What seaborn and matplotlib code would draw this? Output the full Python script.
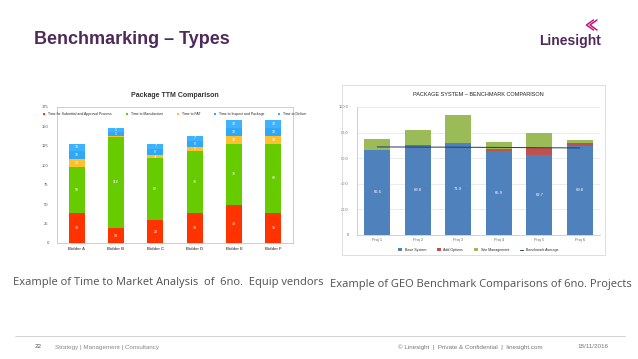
import matplotlib
matplotlib.use("Agg")
import matplotlib.pyplot as plt
import seaborn as sns
import pandas as pd
import numpy as np

# left chart: package time to market per bidder
bidders = ["Bidder A", "Bidder B", "Bidder C", "Bidder D", "Bidder E", "Bidder F"]
submittal = [39, 19, 29, 39, 49, 39]
manufacture = [59, 118, 80, 79, 79, 89]
fat = [10, 1, 4, 5, 10, 10]
inspect = [10, 5, 8, 8, 10, 10]
deliver = [10, 5, 7, 7, 10, 10]
ttm_names = ["Time for Submittal and Approval Process", "Time to Manufacture",
             "Time to FAT", "Time to Inspect and Package", "Time to Deliver"]
ttm_colors = ["#FF3300", "#66CC00", "#FFC02E", "#2FA8F5", "#3DB2FF"]
ttm_ticks = [0, 25, 50, 75, 100, 125, 150, 175]

# right chart: system benchmark per project
projects = ["Proj 1", "Proj 2", "Proj 3", "Proj 4", "Proj 5", "Proj 6"]
base = [66.6, 69.8, 71.9, 65.9, 62.7, 69.8]
options = [0.0, 0.8, 0.3, 1.6, 5.3, 2.4]
mgmt = [8.2, 11.2, 21.4, 5.4, 12.0, 2.3]
benchmark = [68.8, 68.7, 68.6, 68.4, 68.2, 68.0]
geo_names = ["Base System", "Add Options", "Site Management", "Benchmark Average"]
geo_colors = ["#4F81BD", "#C0504D", "#9BBB59", "#1F3864"]
geo_ticks = [0, 20, 40, 60, 80, 100]

sns.set_style("white")
plt.rcParams["font.family"] = ["Liberation Sans", "DejaVu Sans"]

fig = plt.figure(figsize=(6.38, 3.59), dpi=100)

# slide header
fig.text(34 / 638, 1 - 40 / 359, "Benchmarking \u2013 Types", fontsize=13, fontweight="bold",
         color="#4E2A5A", va="center", ha="left")
fig.text(601 / 638, 1 - 41 / 359, "Linesight", fontsize=10, fontweight="bold",
         color="#4E2A5A", va="center", ha="right")
for dx in (0, 3.5):
    fig.add_artist(plt.Line2D([(597 - dx) / 638, (590 - dx) / 638, (597 - dx) / 638],
                              [1 - 20 / 359, 1 - 25 / 359, 1 - 30 / 359],
                              color="#C2187A", lw=1.1, transform=fig.transFigure))

# ---- left chart
ax1 = fig.add_axes([57 / 638, 1 - 243 / 359, 236 / 638, 136 / 359])
ttm = pd.DataFrame({"Bidder": bidders, "sub": submittal, "man": manufacture,
                    "fat": fat, "ins": inspect, "del": deliver})
cols = ["sub", "man", "fat", "ins", "del"]
bottom = np.zeros(len(bidders))
for col, name, color in zip(cols, ttm_names, ttm_colors):
    sns.barplot(data=ttm, x="Bidder", y=col, color=color, bottom=bottom, width=0.4,
                ax=ax1, label=name, saturation=1, linewidth=0)
    for i, v in enumerate(ttm[col]):
        if v >= 4:
            ax1.text(i, bottom[i] + v / 2, f"{v}", color="white", fontsize=2.5,
                     ha="center", va="center")
    bottom = bottom + ttm[col].values
ax1.set_ylim(0, 175)
ax1.set_xlim(-0.5, 5.5)
ax1.set_yticks(ttm_ticks)
ax1.set_yticklabels([f"{t:.0f}" for t in ttm_ticks])
ax1.tick_params(labelsize=3, colors="#555555", length=0, pad=6)
ax1.tick_params(axis="x", pad=3)
for lab in ax1.get_xticklabels():
    lab.set_fontweight("bold")
ax1.set_xlabel("")
ax1.set_ylabel("")
for s in ax1.spines.values():
    s.set_color("#BBBBBB")
    s.set_linewidth(0.5)
ax1.set_title("Package TTM Comparison", fontsize=5, fontweight="bold", color="#333333", pad=7)
ax1.legend(ncol=5, fontsize=2.5, loc="upper center", frameon=False, handlelength=0.6,
           handleheight=0.6, columnspacing=4, borderaxespad=1.0)

# ---- right chart
fig.add_artist(plt.Rectangle((342 / 638, 1 - 255 / 359), 263 / 638, 170 / 359,
                             fill=False, edgecolor="#D9D9D9", lw=0.6, transform=fig.transFigure))
ax2 = fig.add_axes([357 / 638, 1 - 235 / 359, 243 / 638, 128 / 359])
geo = pd.DataFrame({"Project": projects, "base": base, "opt": options, "mgmt": mgmt,
                    "bench": benchmark})
bottom = np.zeros(len(projects))
for col, name, color in zip(["base", "opt", "mgmt"], geo_names[:3], geo_colors[:3]):
    sns.barplot(data=geo, x="Project", y=col, color=color, bottom=bottom, width=0.65,
                ax=ax2, label=name, saturation=1, linewidth=0)
    bottom = bottom + geo[col].values
for i, v in enumerate(base):
    ax2.text(i, v / 2, f"{v:.1f}", color="white", fontsize=3, ha="center", va="center")
sns.lineplot(data=geo, x="Project", y="bench", color=geo_colors[3], lw=0.7, ax=ax2,
             label=geo_names[3])
ax2.set_ylim(0, 100)
ax2.set_xlim(-0.5, 5.5)
ax2.set_yticks(geo_ticks)
ax2.set_yticklabels(["0"] + [f"{t:.1f}" for t in geo_ticks[1:]])
ax2.yaxis.grid(True, color="#E3E3E3", lw=0.5)
ax2.set_axisbelow(True)
ax2.tick_params(labelsize=2.8, colors="#666666", length=0, pad=6)
ax2.tick_params(axis="x", pad=2)
ax2.set_xlabel("")
ax2.set_ylabel("")
for side in ("top", "right"):
    ax2.spines[side].set_visible(False)
for side in ("left", "bottom"):
    ax2.spines[side].set_color("#BFBFBF")
    ax2.spines[side].set_linewidth(0.5)
ax2.set_title("PACKAGE SYSTEM \u2013 BENCHMARK COMPARISON", fontsize=4, color="#222222", pad=8)
handles, labels = ax2.get_legend_handles_labels()
order = [labels.index(n) for n in geo_names]
ax2.legend([handles[k] for k in order], [labels[k] for k in order], ncol=4, fontsize=2.6,
           loc="upper center", bbox_to_anchor=(0.5, -0.075), frameon=False,
           handlelength=1.0, handleheight=0.6, columnspacing=3)

# captions
fig.text(13 / 638, 1 - 283 / 359, "Example of Time to Market Analysis  of  6no.  Equip vendors",
         fontsize=8, color="#505050", va="center", ha="left", family=["Open Sans", "DejaVu Sans"])
fig.text(632 / 638, 1 - 284 / 359, "Example of GEO Benchmark Comparisons of 6no. Projects",
         fontsize=8, color="#505050", va="center", ha="right", family=["Open Sans", "DejaVu Sans"])

# footer
fig.add_artist(plt.Line2D([15 / 638, 625 / 638], [1 - 336 / 359, 1 - 336 / 359],
                          color="#CCCCCC", lw=0.6, transform=fig.transFigure))
fig.text(35 / 638, 1 - 347 / 359, "22", fontsize=4.5, color="#555555", va="center")
fig.text(55 / 638, 1 - 347 / 359, "Strategy | Management | Consultancy", fontsize=4.5,
         color="#888888", va="center")
fig.text(398 / 638, 1 - 347 / 359, "\u00a9 Linesight  |  Private & Confidential  |  linesight.com",
         fontsize=4.5, color="#777777", va="center")
fig.text(577 / 638, 1 - 347 / 359, "18/11/2016", fontsize=4.5, color="#777777", va="center")

fig.savefig("out.png", dpi=100)
